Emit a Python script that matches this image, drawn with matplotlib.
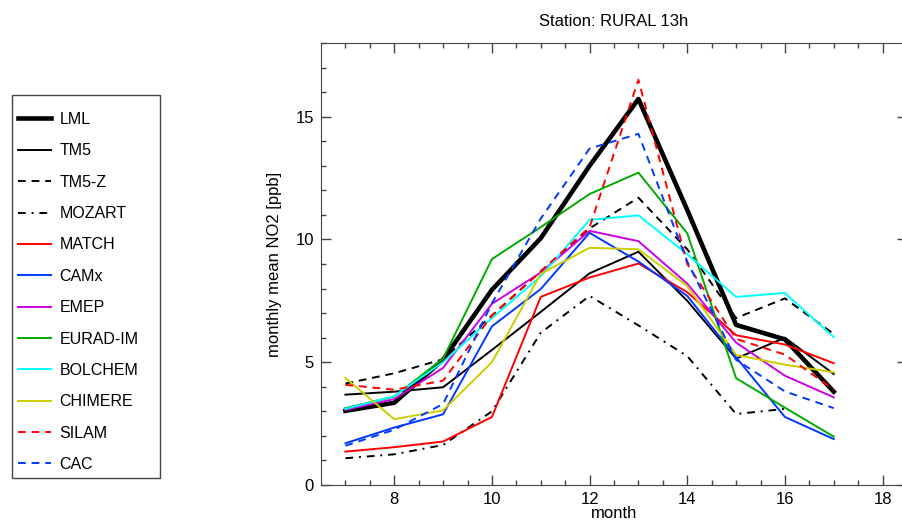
import numpy as np
import matplotlib
matplotlib.use('Agg')
import matplotlib.pyplot as plt
from matplotlib.lines import Line2D
from matplotlib.patches import Rectangle

plt.rcParams['font.family'] = ['Liberation Sans', 'DejaVu Sans']

# monthly mean NO2 [ppb], months 7..17
months = np.arange(7, 18)
lml     = [3.02, 3.35, 5.10, 7.95, 10.05, 13.00, 15.72, 11.20, 6.52, 5.93, 3.80]
tm5     = [3.68, 3.80, 3.98, 5.50, 7.05, 8.62, 9.50, 7.50, 5.15, 6.00, 4.52]
tm5_z   = [4.13, 4.55, 5.12, 6.90, 8.70, 10.45, 11.70, 9.60, 6.80, 7.60, 6.15]
mozart  = [1.09, 1.25, 1.63, 3.00, 6.20, 7.70, 6.50, 5.25, 2.89, 3.10, np.nan]
match   = [1.36, 1.54, 1.77, 2.77, 7.66, 8.45, 9.02, 7.85, 6.10, 5.72, 4.96]
camx    = [1.70, 2.34, 2.88, 6.46, 7.98, 10.27, 9.10, 7.70, 5.20, 2.77, 1.87]
emep    = [3.06, 3.50, 4.77, 7.38, 8.65, 10.35, 9.93, 8.20, 5.80, 4.45, 3.57]
eurad   = [3.13, 3.60, 5.15, 9.20, 10.50, 11.85, 12.72, 10.25, 4.35, 3.15, 1.97]
bolchem = [3.10, 3.62, 5.00, 6.80, 8.50, 10.80, 10.98, 9.40, 7.66, 7.82, 6.02]
chimere = [4.36, 2.68, 3.04, 5.00, 8.60, 9.66, 9.60, 8.10, 5.30, 4.90, 4.59]
silam   = [4.08, 3.88, 4.25, 6.90, 8.70, 10.50, 16.50, 9.00, 5.95, 5.31, 3.88]
cac     = [1.60, 2.25, 3.30, 7.40, 10.85, 13.70, 14.30, 9.10, 5.10, 3.81, 3.13]

dash = (0, (4, 3))
dashdot = (0, (4, 3, 1, 3))
series = [
    ('LML', lml, 'black', '-', 3.3),
    ('TM5', tm5, 'black', '-', 1.4),
    ('TM5-Z', tm5_z, 'black', dash, 1.4),
    ('MOZART', mozart, 'black', dashdot, 1.4),
    ('MATCH', match, '#ff0000', '-', 1.4),
    ('CAMx', camx, '#0038ff', '-', 1.4),
    ('EMEP', emep, '#cc00e6', '-', 1.4),
    ('EURAD-IM', eurad, '#00aa00', '-', 1.4),
    ('BOLCHEM', bolchem, '#00ffff', '-', 1.4),
    ('CHIMERE', chimere, '#cccc00', '-', 1.4),
    ('SILAM', silam, '#ff0000', dash, 1.4),
    ('CAC', cac, '#0038ff', dash, 1.4),
]

W, H = 902, 520
fig = plt.figure(figsize=(W / 100, H / 100), dpi=100)
ax = fig.add_axes([321 / W, 35 / H, (907 - 321) / W, (485 - 43) / H])

for name, vals, col, ls, lw in series:
    ax.plot(months, vals, color=col, linestyle=ls, linewidth=lw, label=name)

ax.set_xlim(6.5, 18.5)
ax.set_ylim(0, 18)
ax.set_xticks(np.arange(8, 19, 2))
ax.set_xticks(np.arange(7, 18.6, 0.5), minor=True)
ax.set_yticks([0, 5, 10, 15])
ax.set_yticks(np.arange(0, 19, 1), minor=True)
ax.tick_params(which='both', direction='in', top=True, right=True,
               labelsize=12, color='#444444', pad=5)
ax.tick_params(which='major', length=7, width=1)
ax.tick_params(which='minor', length=3.5, width=1)
for s in ax.spines.values():
    s.set_color('#444444')

ax.set_title('Station: RURAL 13h', fontsize=12, pad=12)
ax.set_xlabel('month', fontsize=12, labelpad=-1)
ax.set_ylabel('monthly mean NO2 [ppb]', fontsize=12, labelpad=10)

# legend, box drawn separately
handles = [Line2D([], [], color=c, linestyle=ls, linewidth=lw) for _, _, c, ls, lw in series]
labels = [s[0] for s in series]
fig.legend(handles, labels, loc='upper left', bbox_to_anchor=(18 / W, 1 - 112 / H),
           frameon=False, fontsize=11.5, handlelength=2.05, handletextpad=0.55,
           labelspacing=1.025, borderaxespad=0, borderpad=0)
fig.patches.append(Rectangle((12 / W, 1 - 478 / H), 148 / W, 383 / H,
                             transform=fig.transFigure, fill=False,
                             edgecolor='#444444', linewidth=1))

fig.savefig('out.png', dpi=100)
